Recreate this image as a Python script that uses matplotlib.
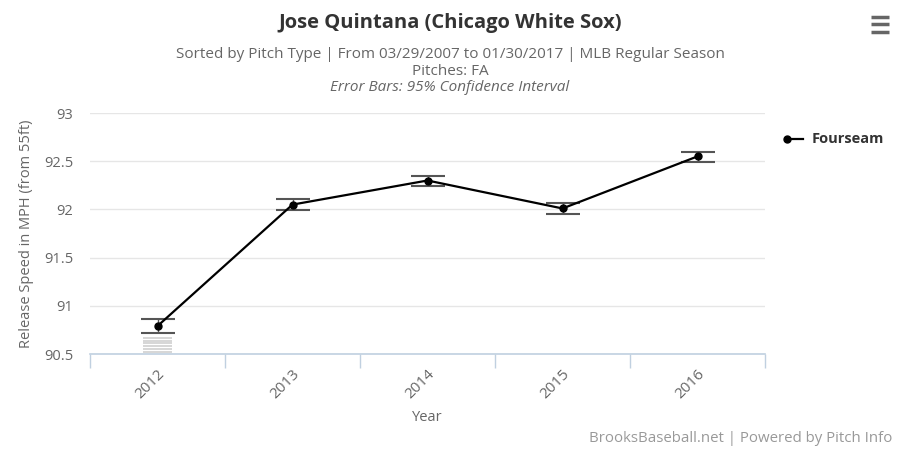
import matplotlib.pyplot as plt
from matplotlib.lines import Line2D

plt.rcParams['font.family'] = ['Open Sans', 'DejaVu Sans']

years = ['2012', '2013', '2014', '2015', '2016']
speed = [90.79, 92.05, 92.30, 92.01, 92.55]
err_low = [90.72, 91.99, 92.24, 91.95, 92.49]
err_high = [90.86, 92.11, 92.35, 92.07, 92.60]
# faint stacked lines under the 2012 bar in the original render
ghost_2012 = [90.67, 90.64, 90.61, 90.58, 90.55, 90.52]
y_ticks = [90.5, 91, 91.5, 92, 92.5, 93]

fig = plt.figure(figsize=(9, 4.53), dpi=100)
ax = fig.add_axes([0.1, 0.2185, 0.75, 0.532])

x = list(range(len(years)))
ax.grid(axis='y', color='#e6e6e6', linewidth=1)
ax.set_axisbelow(True)

ax.hlines(ghost_2012, -0.11, 0.11, color='#cfcfcf', linewidth=1.2, zorder=2)

lower = [s - lo for s, lo in zip(speed, err_low)]
upper = [hi - s for s, hi in zip(speed, err_high)]
ax.errorbar(x, speed, yerr=[lower, upper], fmt='none', ecolor='#555555',
            elinewidth=1, capsize=12, capthick=1.5, zorder=3)
ax.plot(x, speed, color='black', linewidth=1.6, marker='o', markersize=5,
        zorder=4, clip_on=False)

ax.set_xlim(-0.5, len(years) - 0.5)
ax.set_ylim(90.5, 93)
ax.set_yticks(y_ticks)
ax.set_yticklabels(['90.5', '91', '91.5', '92', '92.5', '93'])
ax.set_xticks(x)
ax.set_xticklabels(years, rotation=45, ha='right', va='top',
                   rotation_mode='anchor')
ax.set_xticks([i - 0.5 for i in range(len(years) + 1)], minor=True)
ax.tick_params(axis='x', which='major', length=0, pad=9,
               labelsize=11, labelcolor='#666666')
ax.tick_params(axis='x', which='minor', length=10, color='#c0d0e0', width=1)
ax.tick_params(axis='y', length=0, pad=12, labelsize=10.5,
               labelcolor='#666666')

for side in ['top', 'right', 'left']:
    ax.spines[side].set_visible(False)
ax.spines['bottom'].set_color('#c0d0e0')
ax.spines['bottom'].set_linewidth(1.2)

ax.set_xlabel('Year', fontsize=10.5, color='#666666', labelpad=6)
ax.set_ylabel('Release Speed in MPH (from 55ft)', fontsize=10.5,
              color='#666666', labelpad=7)

fig.text(0.5, 0.95, 'Jose Quintana (Chicago White Sox)', ha='center',
         va='center', fontsize=14.5, fontweight='bold', color='#333333')
fig.text(0.5, 0.879, 'Sorted by Pitch Type | From 03/29/2007 to 01/30/2017 | '
         'MLB Regular Season', ha='center', va='center', fontsize=11,
         color='#666666')
fig.text(0.5, 0.843, 'Pitches: FA', ha='center', va='center', fontsize=11,
         color='#666666')
fig.text(0.5, 0.806, 'Error Bars: 95% Confidence Interval', ha='center',
         va='center', fontsize=11, color='#666666', style='italic')

# legend
fig.add_artist(Line2D([0.874, 0.892], [0.693, 0.693], color='black',
                      linewidth=1.6, marker='o', markersize=5,
                      markevery=[0], transform=fig.transFigure))
fig.text(0.902, 0.693, 'Fourseam', ha='left', va='center', fontsize=10.5,
         fontweight='bold', color='#333333')

# menu icon
for yy in [0.962, 0.946, 0.930]:
    fig.add_artist(Line2D([0.968, 0.988], [yy, yy], color='#666666',
                          linewidth=2.5, solid_capstyle='butt',
                          transform=fig.transFigure))

fig.text(0.992, 0.033, 'BrooksBaseball.net | Powered by Pitch Info',
         ha='right', va='center', fontsize=10.8, color='#999999')

fig.savefig('out.png', dpi=100)
